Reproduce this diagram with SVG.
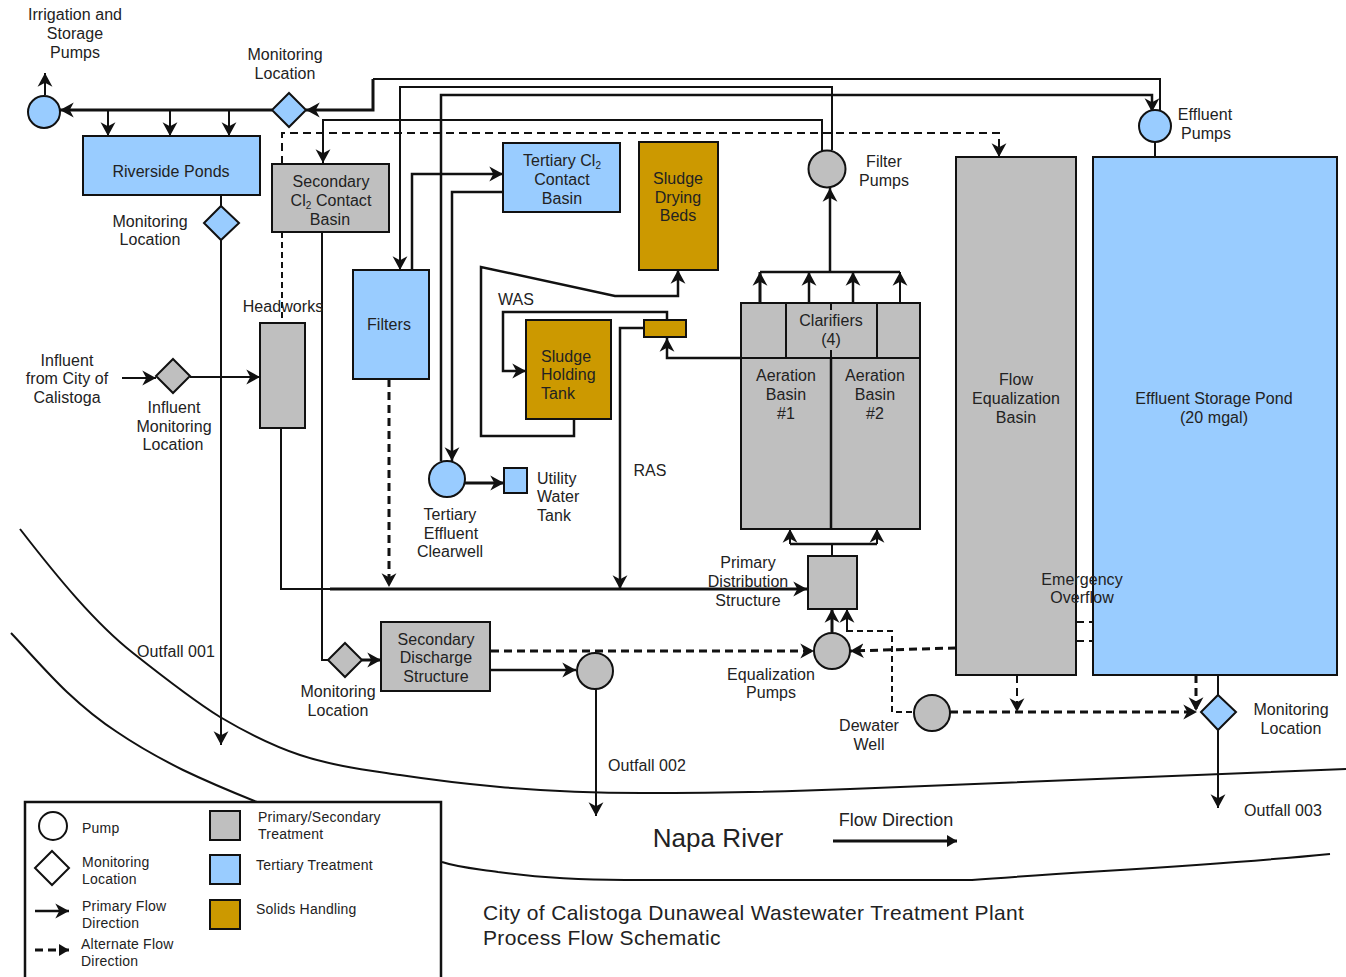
<svg xmlns="http://www.w3.org/2000/svg" width="1346" height="977" viewBox="0 0 1346 977">
<style>
text{font-family:"Liberation Sans",Arial,sans-serif;font-size:16px;fill:#222;text-anchor:middle;letter-spacing:.05px}
.l{text-anchor:start}
.s{font-size:14px;letter-spacing:.22px}
.ti{font-size:21px;letter-spacing:.36px}
.box{stroke:#111;stroke-width:2}
.g{fill:#bfbfbf}.b{fill:#99ccff}.o{fill:#cc9900}
.c{fill:none;stroke:#111;stroke-width:2.500}
.t{stroke-width:2}
.h{stroke-width:3}
.a{marker-end:url(#ah)}
.d{stroke-dasharray:8 5}
.sd{stroke-dasharray:6 4;stroke-width:2}
.r{fill:none;stroke:#111;stroke-width:2}
</style>
<defs>
<marker id="ah" markerUnits="userSpaceOnUse" markerWidth="16" markerHeight="16" refX="12" refY="7" orient="auto" viewBox="0 0 14 14"><path d="M0,0.500 L12,7 L0,13.500 L3.500,7Z" fill="#111"/></marker>
<marker id="ft" markerUnits="userSpaceOnUse" markerWidth="12" markerHeight="14" refX="10" refY="7" orient="auto" viewBox="0 0 12 14"><path d="M0,1 L10,7 L0,13Z" fill="#111"/></marker>
</defs>
<rect width="1346" height="977" fill="#fff"/>
<g id="river">
<path class="r" d="M20,529 C58,578 95,623 133,653 C162,676 191,699 220,717 C247,733 273,746 300,755 C333,766 367,770 400,775 C433,780 467,784 500,787 C547,791 595,793 642,793 C711,793 781,792 850,789 C1015,782 1180,776 1346,769"/>
<path class="r" d="M11,633 C30,653 48,674 67,692 C84,708 100,721 117,732 C139,747 161,759 183,770 C208,782 232,792 257,802"/>
<path class="r" d="M442,862 C460,868 480,869 498,872 C540,878 580,880 625,880 C750,881 870,881 972,880 C1090,871 1210,866 1330,854"/>
</g>
<g id="connectors">
<path class="c h a" d="M272,110 H60"/>
<path class="c t a" d="M45,95 V73"/>
<path class="c t a" d="M108,110 V136"/><path class="c t a" d="M170,110 V136"/><path class="c t a" d="M229,110 V136"/>
<path class="c h a" d="M373,79 V110 H306"/>
<path class="c t" d="M373,79 H1160 V110"/>
<path class="c t a" d="M832,150 V87 H400 V270"/>
<path class="c a" d="M441,461 V95 H1152 V112"/>
<path class="c t a" d="M822,152 V120 H323 V163"/>
<path class="c t d a" d="M282,164 V133 H999 V157"/>
<path class="c t sd" d="M282,232 V323"/>
<path class="c t" d="M221,195 V206"/>
<path class="c t a" d="M221,240 V745"/>
<path class="c t" d="M322,232 V660 H328"/>
<path class="c h a" d="M362,660 H381"/>
<path class="c a" d="M412,270 V174 H503"/>
<path class="c a" d="M503,192 H452 V461"/>
<path class="c t a" d="M122,378 H156"/>
<path class="c t a" d="M190,377 H260"/>
<path class="c t" d="M281,428 V589 H330"/>
<path class="c h a" d="M330,589 H807"/>
<path class="c h d a" d="M389,379 V587"/>
<path class="c a" d="M574,419 V436 H481 V267 L615,296 H678 V270"/>
<path class="c a" d="M667,320 V312 H503 V371 H526"/>
<path class="c a" d="M644,328 H620 V589"/>
<path class="c a" d="M741,358 H667 V338"/>
<path class="c h a" d="M760,303 V272"/><path class="c a" d="M809,303 V272"/><path class="c a" d="M853,303 V272"/><path class="c t a" d="M900,303 V272"/>
<path class="c" d="M760,272 H900"/>
<path class="c a" d="M830,272 V188"/>
<path class="c t" d="M832,556 V544"/>
<path class="c t a" d="M790,544 V529"/><path class="c t a" d="M877,544 V529"/>
<path class="c" d="M790,544 H877"/>
<path class="c h d a" d="M491,651 H814"/>
<path class="c h d a" d="M956,648 L850,651"/>
<path class="c h a" d="M832,632 V609"/>
<path class="c t a" d="M847,632 V609"/>
<path class="c t sd" d="M847,631 H892 V712 H914"/>
<path class="c h d a" d="M950,712 H1197"/>
<path class="c t d a" d="M1017,675 V712"/>
<path class="c h d a" d="M1196,675 V711"/>
<path class="c t d" d="M1076,622 H1093"/><path class="c t d" d="M1076,641 H1093"/>
<path class="c t" d="M1218,675 V695"/>
<path class="c t a" d="M1218,730 V808"/>
<path class="c a" d="M490,670 H576"/>
<path class="c t a" d="M596,689 V816"/>
<path class="c h a" d="M465,483 H504"/>
<path class="c t" d="M1155,142 V157"/>
<path class="c h" style="marker-end:url(#ft)" d="M833,841 H957"/>
</g>
<g id="irrigation-pump"><circle class="box b" cx="44" cy="112" r="16"/><text x="75" y="20">Irrigation and</text><text x="75" y="39">Storage</text><text x="75" y="58">Pumps</text></g>
<g id="monitoring-1"><path class="box b" d="M289,93 L306,110 L289,127 L272,110Z"/><text x="285" y="60">Monitoring</text><text x="285" y="79">Location</text></g>
<g id="riverside-ponds"><rect class="box b" x="83" y="136" width="177" height="59"/><text x="171" y="177">Riverside Ponds</text></g>
<g id="monitoring-2"><path class="box b" d="M221,206 L239,223 L221,240 L204,223Z"/><text x="150" y="227">Monitoring</text><text x="150" y="245">Location</text></g>
<g id="secondary-cl2"><rect class="box g" x="272" y="164" width="117" height="68"/><text x="331" y="187">Secondary</text><text x="331" y="206">Cl<tspan font-size="10" dy="3">2</tspan><tspan dy="-3"> Contact</tspan></text><text x="330" y="225">Basin</text></g>
<g id="tertiary-cl2"><rect class="box b" x="503" y="143" width="117" height="69"/><text x="562" y="166">Tertiary Cl<tspan font-size="10" dy="3">2</tspan></text><text x="562" y="185">Contact</text><text x="562" y="204">Basin</text></g>
<g id="sludge-drying"><rect class="box o" x="639" y="142" width="79" height="128"/><text x="678" y="184">Sludge</text><text x="678" y="203">Drying</text><text x="678" y="221">Beds</text></g>
<g id="filter-pumps"><circle class="box g" cx="827" cy="169" r="18.500"/><text x="884" y="167">Filter</text><text x="884" y="186">Pumps</text></g>
<g id="effluent-pumps"><circle class="box b" cx="1155" cy="126" r="16"/><text x="1205" y="120">Effluent</text><text x="1206" y="139">Pumps</text></g>
<g id="flow-eq"><rect class="box g" x="956" y="157" width="120" height="518"/><text x="1016" y="385">Flow</text><text x="1016" y="404">Equalization</text><text x="1016" y="423">Basin</text></g>
<g id="effluent-pond"><rect class="box b" x="1093" y="157" width="244" height="518"/><text x="1214" y="404">Effluent Storage Pond</text><text x="1214" y="423">(20 mgal)</text></g>
<g id="filters"><rect class="box b" x="353" y="270" width="76" height="109"/><text x="389" y="330">Filters</text></g>
<g id="headworks"><rect class="box g" x="260" y="323" width="45" height="105"/><text x="283" y="312">Headworks</text></g>
<g id="influent-monitor"><path class="box g" d="M173,359 L190,376 L173,393 L156,376Z"/><text x="67" y="366">Influent</text><text x="67" y="384">from City of</text><text x="67" y="403">Calistoga</text><text x="174" y="413">Influent</text><text x="174" y="432">Monitoring</text><text x="173" y="450">Location</text></g>
<g id="sludge-holding"><rect class="box o" x="526" y="320" width="85" height="99"/><text class="l" x="541" y="362">Sludge</text><text class="l" x="541" y="380">Holding</text><text class="l" x="541" y="399">Tank</text></g>
<g id="splitter"><rect class="box o" x="644" y="320" width="42" height="17"/></g>
<text x="516" y="305">WAS</text><text x="650" y="476">RAS</text>
<g id="clarifiers"><rect class="box g" x="741" y="303" width="179" height="55"/><path class="c t" d="M786,303 V358 M877,303 V358 M831,303 V310 M831,350 V358"/><text x="831" y="326">Clarifiers</text><text x="831" y="345">(4)</text></g>
<g id="aeration"><rect class="box g" x="741" y="358" width="179" height="171"/><path class="c" d="M831,358 V529"/><text x="786" y="381">Aeration</text><text x="786" y="400">Basin</text><text x="786" y="419">#1</text><text x="875" y="381">Aeration</text><text x="875" y="400">Basin</text><text x="875" y="419">#2</text></g>
<g id="clearwell"><circle class="box b" cx="447" cy="479" r="18"/><text x="450" y="520">Tertiary</text><text x="451" y="539">Effluent</text><text x="450" y="557">Clearwell</text></g>
<g id="utility"><rect class="box b" x="504" y="468" width="23" height="25"/><text class="l" x="537" y="484">Utility</text><text class="l" x="537" y="502">Water</text><text class="l" x="537" y="521">Tank</text></g>
<g id="primary-dist"><rect class="box g" x="808" y="556" width="49" height="53"/><text x="748" y="568">Primary</text><text x="748" y="587">Distribution</text><text x="748" y="606">Structure</text></g>
<g id="eq-pumps"><circle class="box g" cx="832" cy="651" r="18"/><text x="771" y="680">Equalization</text><text x="771" y="698">Pumps</text></g>
<g id="dewater"><circle class="box g" cx="932" cy="713" r="18"/><text x="869" y="731">Dewater</text><text x="869" y="750">Well</text></g>
<g id="monitoring-3"><path class="box g" d="M345,643 L362,660 L345,677 L328,660Z"/><text x="338" y="697">Monitoring</text><text x="338" y="716">Location</text></g>
<g id="secondary-discharge"><rect class="box g" x="381" y="622" width="109" height="69"/><text x="436" y="645">Secondary</text><text x="436" y="663">Discharge</text><text x="436" y="682">Structure</text></g>
<g id="outfall-2-pump"><circle class="box g" cx="595" cy="671" r="18"/></g>
<g id="monitoring-4"><path class="box b" d="M1218,695 L1236,712 L1218,730 L1201,712Z"/><text x="1291" y="715">Monitoring</text><text x="1291" y="734">Location</text></g>
<text x="1082" y="585">Emergency</text><text x="1082" y="603">Overflow</text>
<text x="176" y="657">Outfall 001</text><text x="647" y="771">Outfall 002</text><text x="1283" y="816">Outfall 003</text>
<text x="718" y="847" style="font-size:26px">Napa River</text>
<text x="896" y="826" style="font-size:18px">Flow Direction</text>
<text class="l ti" x="483" y="920">City of Calistoga Dunaweal Wastewater Treatment Plant</text>
<text class="l ti" x="483" y="945">Process Flow Schematic</text>
<g id="legend">
<rect x="25" y="802" width="416" height="178" fill="#fff" stroke="#111" stroke-width="2.500"/>
<circle cx="53" cy="826" r="14" fill="#fff" stroke="#111" stroke-width="2"/>
<path d="M52,851 L69,868 L52,885 L35,868Z" fill="#fff" stroke="#111" stroke-width="2"/>
<path class="c a" d="M35,911 H69"/>
<path class="c h d" style="marker-end:url(#ft)" d="M35,950 H69"/>
<rect class="box g" x="210" y="811" width="30" height="29"/>
<rect class="box b" x="210" y="855" width="30" height="29"/>
<rect class="box o" x="210" y="900" width="30" height="29"/>
<text class="l s" x="82" y="833">Pump</text>
<text class="l s" x="82" y="867">Monitoring</text><text class="l s" x="82" y="884">Location</text>
<text class="l s" x="82" y="911">Primary Flow</text><text class="l s" x="82" y="928">Direction</text>
<text class="l s" x="81" y="949">Alternate Flow</text><text class="l s" x="81" y="966">Direction</text>
<text class="l s" x="258" y="822">Primary/Secondary</text><text class="l s" x="258" y="839">Treatment</text>
<text class="l s" x="256" y="870">Tertiary Treatment</text>
<text class="l s" x="256" y="914">Solids Handling</text>
</g>
</svg>
